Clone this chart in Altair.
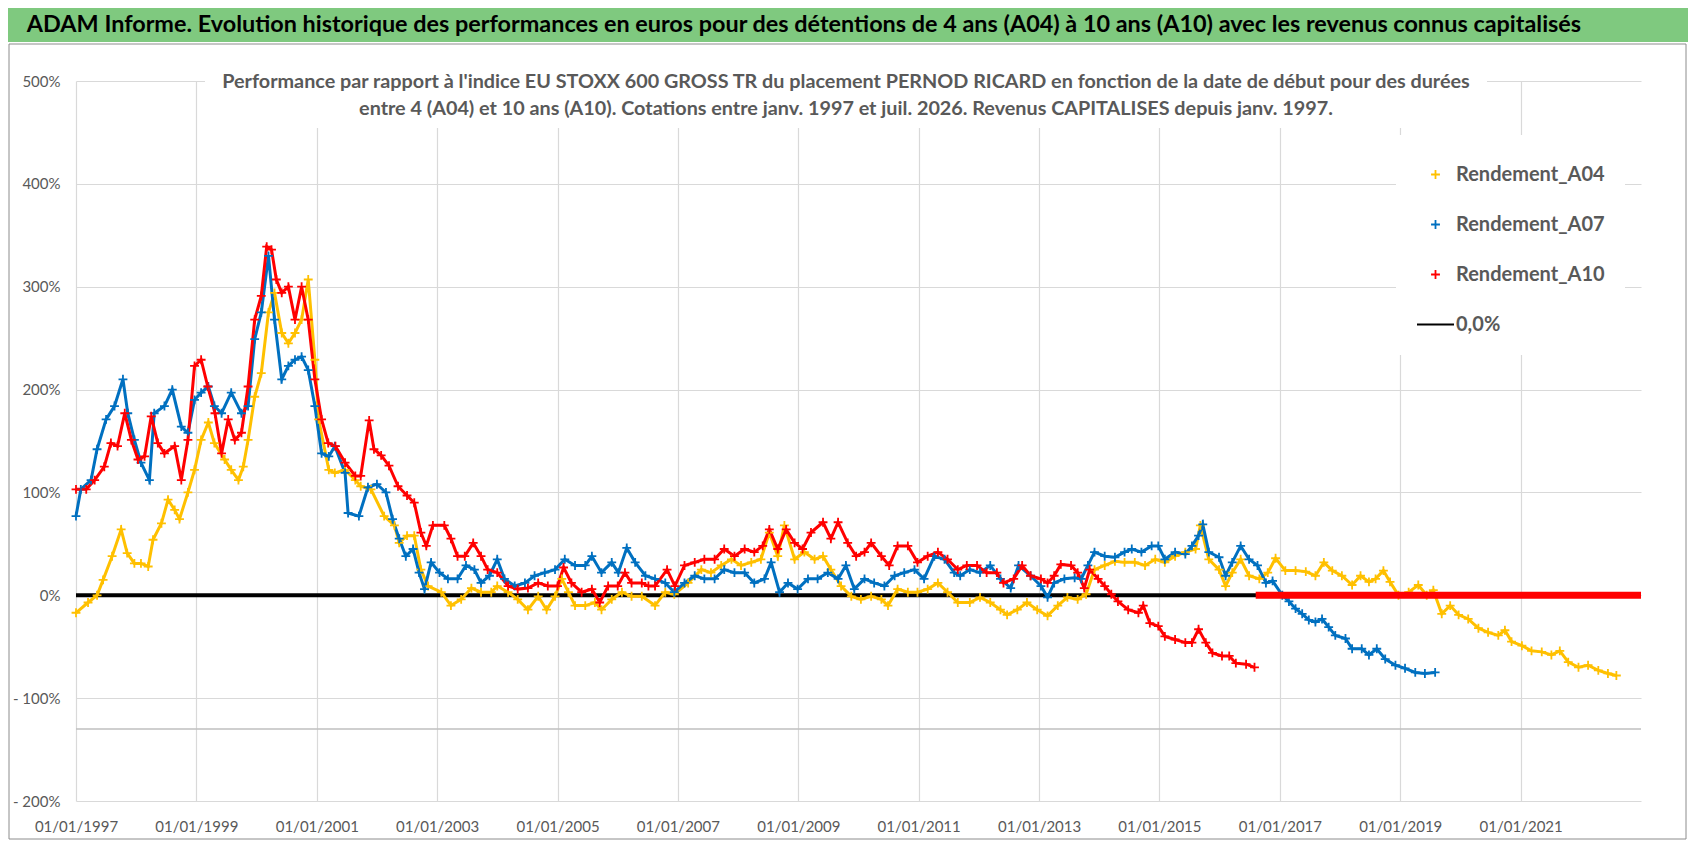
import altair as alt
import pandas as pd

# date de début (année décimale), performance relative en %
A04 = [
    (1997.00, -17), (1997.20, -7), (1997.35, 0), (1997.45, 15), (1997.60, 38), (1997.75, 64),
    (1997.85, 41), (1997.97, 31), (1998.08, 31), (1998.20, 28), (1998.28, 54), (1998.42, 70),
    (1998.53, 93), (1998.64, 83), (1998.72, 74), (1998.86, 100), (1998.97, 122), (1999.08, 151),
    (1999.20, 168), (1999.30, 148), (1999.47, 132), (1999.58, 122), (1999.70, 112), (1999.78, 125),
    (1999.86, 151), (1999.97, 193), (2000.08, 216), (2000.20, 275), (2000.30, 294), (2000.42, 255),
    (2000.53, 245), (2000.64, 255), (2000.75, 268), (2000.86, 307), (2000.97, 229), (2001.03, 171),
    (2001.20, 122), (2001.30, 119), (2001.47, 122), (2001.64, 112), (2001.73, 106), (2001.90, 103),
    (2002.12, 77), (2002.29, 68), (2002.37, 51), (2002.50, 58), (2002.62, 58), (2002.73, 25),
    (2002.85, 9), (2003.07, 3), (2003.23, -10), (2003.40, -4), (2003.57, 7), (2003.73, 3),
    (2003.90, 3), (2004.00, 9), (2004.18, 3), (2004.34, -4), (2004.51, -14), (2004.68, -1),
    (2004.82, -14), (2004.96, -1), (2005.07, 16), (2005.18, 3), (2005.29, -10), (2005.46, -10),
    (2005.62, -7), (2005.73, -14), (2005.90, -4), (2006.07, 3), (2006.23, -1), (2006.40, -1),
    (2006.62, -10), (2006.79, 3), (2006.94, 1), (2007.17, 12), (2007.39, 25), (2007.55, 22),
    (2007.72, 29), (2007.89, 35), (2008.05, 29), (2008.22, 32), (2008.38, 35), (2008.52, 61),
    (2008.66, 38), (2008.77, 68), (2008.94, 35), (2009.10, 42), (2009.27, 35), (2009.41, 38),
    (2009.54, 25), (2009.71, 9), (2009.88, -1), (2010.04, -4), (2010.21, -1), (2010.38, -4),
    (2010.49, -10), (2010.65, 6), (2010.82, 3), (2010.98, 3), (2011.15, 6), (2011.32, 12),
    (2011.48, 3), (2011.65, -7), (2011.85, -7), (2012.02, -2), (2012.19, -7), (2012.36, -14),
    (2012.47, -19), (2012.64, -14), (2012.80, -7), (2012.97, -14), (2013.14, -20), (2013.31, -10),
    (2013.47, -2), (2013.64, -4), (2013.78, 1), (2013.92, 25), (2014.09, 29), (2014.26, 33),
    (2014.42, 32), (2014.59, 32), (2014.76, 29), (2014.93, 35), (2015.09, 32), (2015.26, 38),
    (2015.43, 42), (2015.60, 45), (2015.68, 68), (2015.82, 35), (2015.99, 25), (2016.10, 9),
    (2016.21, 22), (2016.35, 35), (2016.49, 19), (2016.66, 16), (2016.80, 22), (2016.93, 36),
    (2017.09, 24), (2017.26, 24), (2017.43, 23), (2017.59, 19), (2017.73, 32), (2017.87, 24),
    (2018.03, 19), (2018.20, 10), (2018.34, 19), (2018.48, 13), (2018.59, 16), (2018.72, 24),
    (2018.83, 13), (2018.97, 0), (2019.14, 3), (2019.30, 10), (2019.44, 0), (2019.55, 5),
    (2019.69, -18), (2019.83, -10), (2019.97, -19), (2020.13, -23), (2020.30, -32), (2020.46, -36),
    (2020.63, -39), (2020.74, -34), (2020.85, -45), (2021.02, -49), (2021.18, -54), (2021.35, -55),
    (2021.51, -58), (2021.65, -54), (2021.79, -65), (2021.96, -70), (2022.12, -68), (2022.29, -73),
    (2022.45, -76), (2022.59, -78),
]

A07 = [
    (1997.00, 77), (1997.08, 103), (1997.25, 112), (1997.35, 142), (1997.50, 171), (1997.64, 184),
    (1997.78, 210), (1997.86, 177), (1997.97, 151), (1998.08, 129), (1998.22, 112), (1998.30, 177),
    (1998.47, 184), (1998.60, 200), (1998.75, 164), (1998.86, 158), (1998.97, 190), (1999.08, 197),
    (1999.20, 203), (1999.30, 184), (1999.42, 177), (1999.58, 197), (1999.75, 177), (1999.86, 184),
    (1999.97, 249), (2000.08, 275), (2000.20, 330), (2000.30, 268), (2000.42, 210), (2000.53, 223),
    (2000.64, 229), (2000.75, 232), (2000.86, 219), (2000.97, 184), (2001.08, 138), (2001.20, 135),
    (2001.30, 145), (2001.47, 119), (2001.52, 80), (2001.70, 77), (2001.85, 105), (2002.00, 108),
    (2002.15, 100), (2002.26, 74), (2002.37, 55), (2002.48, 38), (2002.60, 45), (2002.70, 22),
    (2002.79, 6), (2002.90, 32), (2003.04, 22), (2003.18, 16), (2003.34, 16), (2003.48, 29),
    (2003.62, 25), (2003.73, 12), (2003.87, 19), (2004.00, 35), (2004.12, 16), (2004.29, 9),
    (2004.46, 12), (2004.62, 19), (2004.79, 22), (2004.96, 25), (2005.12, 35), (2005.29, 29),
    (2005.46, 29), (2005.57, 38), (2005.73, 22), (2005.90, 32), (2006.01, 22), (2006.15, 46),
    (2006.29, 32), (2006.46, 19), (2006.62, 16), (2006.79, 12), (2006.94, 3), (2007.11, 12),
    (2007.28, 19), (2007.44, 16), (2007.61, 16), (2007.77, 25), (2007.94, 22), (2008.11, 22),
    (2008.27, 12), (2008.44, 16), (2008.55, 32), (2008.69, 3), (2008.83, 12), (2008.99, 6),
    (2009.16, 16), (2009.32, 16), (2009.49, 22), (2009.66, 16), (2009.79, 29), (2009.93, 6),
    (2010.10, 16), (2010.26, 12), (2010.43, 9), (2010.60, 19), (2010.76, 22), (2010.93, 25),
    (2011.09, 16), (2011.26, 38), (2011.43, 35), (2011.59, 22), (2011.69, 19), (2011.85, 25),
    (2012.02, 22), (2012.19, 29), (2012.36, 16), (2012.53, 7), (2012.66, 29), (2012.86, 19),
    (2013.03, 9), (2013.14, -2), (2013.25, 12), (2013.42, 16), (2013.59, 17), (2013.70, 16),
    (2013.81, 29), (2013.92, 42), (2014.09, 38), (2014.26, 37), (2014.42, 42), (2014.54, 45),
    (2014.70, 42), (2014.87, 48), (2014.98, 48), (2015.09, 35), (2015.26, 42), (2015.43, 40),
    (2015.54, 48), (2015.65, 58), (2015.72, 69), (2015.82, 42), (2015.99, 37), (2016.10, 19),
    (2016.21, 32), (2016.35, 48), (2016.49, 35), (2016.63, 29), (2016.77, 12), (2016.88, 14),
    (2017.04, 0), (2017.15, -6), (2017.26, -13), (2017.37, -18), (2017.48, -24), (2017.59, -26),
    (2017.70, -23), (2017.81, -31), (2017.92, -39), (2018.09, -42), (2018.20, -52), (2018.36, -52),
    (2018.48, -58), (2018.61, -52), (2018.75, -62), (2018.92, -68), (2019.08, -71), (2019.25, -75),
    (2019.41, -76), (2019.58, -75),
]

A10 = [
    (1997.00, 103), (1997.17, 103), (1997.31, 112), (1997.47, 125), (1997.58, 148), (1997.69, 145),
    (1997.81, 177), (1997.92, 151), (1998.03, 132), (1998.14, 135), (1998.25, 174), (1998.36, 148),
    (1998.47, 138), (1998.64, 145), (1998.75, 112), (1998.86, 151), (1998.97, 223), (1999.08, 229),
    (1999.19, 203), (1999.31, 177), (1999.42, 138), (1999.53, 171), (1999.64, 151), (1999.75, 158),
    (1999.86, 203), (1999.97, 268), (2000.08, 291), (2000.17, 339), (2000.25, 336), (2000.33, 307),
    (2000.42, 294), (2000.53, 300), (2000.64, 268), (2000.75, 300), (2000.86, 268), (2000.97, 210),
    (2001.08, 171), (2001.19, 148), (2001.31, 145), (2001.47, 129), (2001.64, 116), (2001.73, 116),
    (2001.87, 170), (2001.95, 142), (2002.07, 136), (2002.20, 126), (2002.35, 106), (2002.50, 97),
    (2002.62, 90), (2002.73, 61), (2002.82, 48), (2002.93, 68), (2003.12, 68), (2003.23, 55),
    (2003.34, 38), (2003.46, 38), (2003.60, 51), (2003.73, 38), (2003.84, 25), (2004.00, 22),
    (2004.18, 9), (2004.34, 6), (2004.51, 7), (2004.68, 12), (2004.84, 9), (2005.00, 9),
    (2005.10, 27), (2005.23, 12), (2005.40, 3), (2005.57, 6), (2005.70, -7), (2005.84, 9),
    (2006.00, 9), (2006.12, 22), (2006.23, 12), (2006.40, 12), (2006.51, 9), (2006.62, 9),
    (2006.82, 25), (2006.95, 9), (2007.11, 29), (2007.28, 32), (2007.44, 35), (2007.61, 35),
    (2007.77, 45), (2007.94, 38), (2008.11, 45), (2008.27, 42), (2008.41, 48), (2008.52, 64),
    (2008.66, 45), (2008.80, 64), (2008.94, 51), (2009.07, 45), (2009.21, 61), (2009.41, 71),
    (2009.54, 55), (2009.66, 71), (2009.82, 51), (2009.96, 38), (2010.10, 42), (2010.21, 51),
    (2010.38, 38), (2010.51, 29), (2010.65, 48), (2010.82, 48), (2010.98, 32), (2011.15, 38),
    (2011.32, 42), (2011.48, 35), (2011.65, 25), (2011.80, 29), (2011.97, 29), (2012.13, 22),
    (2012.30, 22), (2012.41, 12), (2012.58, 16), (2012.72, 29), (2012.86, 19), (2013.03, 16),
    (2013.14, 12), (2013.25, 19), (2013.36, 30), (2013.53, 29), (2013.64, 22), (2013.75, 7),
    (2013.84, 25), (2013.98, 16), (2014.09, 9), (2014.20, 1), (2014.31, -6), (2014.48, -14),
    (2014.65, -17), (2014.73, -10), (2014.84, -27), (2014.98, -30), (2015.09, -40), (2015.26, -43),
    (2015.43, -46), (2015.54, -46), (2015.65, -33), (2015.77, -46), (2015.88, -56), (2016.04, -59),
    (2016.16, -59), (2016.27, -66), (2016.44, -67), (2016.58, -70),
]

# A10 à 0 après la fin des cotations (trait rouge épais)
A10_ZERO = [(2016.60, 0), (2023.00, 0)]
# ligne de référence 0,0 %
LIGNE_ZERO = [(1997.00, 0), (2023.00, 0)]
# ligne horizontale grise sous l'axe
LIGNE_BAS = [(1997.00, -130), (2023.00, -130)]

SERIES = ["Rendement_A04", "Rendement_A07", "Rendement_A10", "0,0%"]
COULEURS = ["#FFC000", "#0070C0", "#FF0000", "#000000"]
ANNEES_TICKS = list(range(1997, 2022, 2))

TITRE = ("ADAM Informe. Evolution historique des performances en euros pour des détentions "
         "de 4 ans (A04) à 10 ans (A10) avec les revenus connus capitalisés")
SOUS_TITRE_1 = ("Performance par rapport à l'indice EU STOXX 600 GROSS TR  du placement PERNOD RICARD "
                "en fonction de la date de début pour des durées")
SOUS_TITRE_2 = ("entre 4 (A04) et 10 ans (A10). Cotations entre janv. 1997 et juil. 2026. "
                "Revenus CAPITALISES depuis janv. 1997.")

FONT = "Lato"
GRIS = "#595959"


def to_date(t):
    y = int(t)
    return pd.Timestamp(year=y, month=1, day=1) + pd.Timedelta(days=(t - y) * 365.25)


def frame(pairs, name):
    return pd.DataFrame({
        "date": [to_date(t) for t, _ in pairs],
        "perf": [v for _, v in pairs],
        "serie": name,
    })


pts = pd.concat([frame(A04, SERIES[0]), frame(A07, SERIES[1]), frame(A10, SERIES[2])],
                ignore_index=True)
pts["ordre"] = range(len(pts))

x_scale = alt.Scale(domain=[alt.DateTime(year=1997, month=1, date=1),
                            alt.DateTime(year=2023, month=1, date=1)])
y_scale = alt.Scale(domain=[-200, 500], nice=False)

x_enc = alt.X("date:T", scale=x_scale, title=None,
              axis=alt.Axis(values=[alt.DateTime(year=a, month=1, date=1) for a in ANNEES_TICKS],
                            format="%d/%m/%Y", grid=True, gridColor="#D9D9D9", gridWidth=1.2,
                            ticks=False, domain=False, labelFont=FONT, labelFontSize=15,
                            labelColor=GRIS, labelPadding=18, labelFlush=False))
y_enc = alt.Y("perf:Q", scale=y_scale, title=None,
              axis=alt.Axis(values=list(range(-200, 501, 100)),
                            labelExpr="datum.value < 0 ? '- ' + (-datum.value) + '%' : datum.value + '%'",
                            grid=True, gridColor="#D9D9D9", gridWidth=1.2, ticks=False, domain=False,
                            labelFont=FONT, labelFontSize=15, labelColor=GRIS, labelPadding=16))

# croix fine dans un symbole de grande taille : le trait "0,0%" de la légende garde sa longueur
croix = "M-0.24,0L0.24,0M0,-0.24L0,0.24"
leg = alt.Legend(title=None, orient="none", legendX=1320, legendY=54, fillColor="white",
                 padding=20, rowPadding=20, labelOffset=1, symbolSize=1369,
                 labelFont=FONT, labelFontSize=20, labelFontWeight="bold", labelColor=GRIS,
                 labelLimit=400)

points = alt.Chart(pts).mark_point(filled=False, opacity=1, size=1369).encode(
    x=x_enc,
    y=y_enc,
    color=alt.Color("serie:N", scale=alt.Scale(domain=SERIES, range=COULEURS), legend=leg),
    shape=alt.Shape("serie:N", scale=alt.Scale(domain=SERIES, range=[croix, croix, croix, "stroke"]),
                    legend=leg),
    strokeWidth=alt.StrokeWidth("serie:N", scale=alt.Scale(domain=SERIES, range=[1.8, 1.8, 1.8, 4]),
                                legend=leg),
    order="ordre:Q",
)

traits = [
    alt.Chart(frame(serie, nom)).mark_line(color=coul, strokeWidth=3).encode(x="date:T", y="perf:Q")
    for serie, nom, coul in zip([A04, A07, A10], SERIES, COULEURS)
]

zero = alt.Chart(frame(LIGNE_ZERO, "zero")).mark_line(color="black", strokeWidth=4).encode(
    x="date:T", y="perf:Q")
bas = alt.Chart(frame(LIGNE_BAS, "bas")).mark_line(color="#BFBFBF", strokeWidth=1.5).encode(
    x="date:T", y="perf:Q")
rouge = alt.Chart(frame(A10_ZERO, "a10")).mark_line(color="#FF0000", strokeWidth=7).encode(
    x="date:T", y="perf:Q")

one = pd.DataFrame({"k": [0]})
cadre = alt.Chart(one).mark_rect(fillOpacity=0, stroke="#8C8C8C", strokeWidth=1).encode(
    x=alt.value(-67), x2=alt.value(1610), y=alt.value(-37), y2=alt.value(758))
bandeau = alt.Chart(one).mark_rect(color="#7FC97F").encode(
    x=alt.value(-68), x2=alt.value(1612), y=alt.value(-73), y2=alt.value(-39))
titre = alt.Chart(one).mark_text(font=FONT, fontSize=23.4, fontWeight="bold", color="black",
                                 align="center", baseline="middle").encode(
    x=alt.value(728), y=alt.value(-56), text=alt.value(TITRE))
fond_st = alt.Chart(one).mark_rect(color="white").encode(
    x=alt.value(129), x2=alt.value(1411), y=alt.value(-11), y2=alt.value(47))
st1 = alt.Chart(one).mark_text(font=FONT, fontSize=19.8, fontWeight="bold", color=GRIS,
                               align="center", baseline="middle").encode(
    x=alt.value(770), y=alt.value(1), text=alt.value(SOUS_TITRE_1))
st2 = alt.Chart(one).mark_text(font=FONT, fontSize=19.8, fontWeight="bold", color=GRIS,
                               align="center", baseline="middle").encode(
    x=alt.value(770), y=alt.value(28), text=alt.value(SOUS_TITRE_2))

chart = alt.layer(cadre, bandeau, titre, fond_st, st1, st2, bas, zero, *traits, points, rouge).properties(
    width=1565, height=720,
    autosize=alt.AutoSizeParams(type="none"),
    padding={"left": 68, "top": 73, "right": 47, "bottom": 41},
    background="white",
).configure_view(stroke=None)

chart.save("out.html", embed_options={"renderer": "svg", "actions": False})
